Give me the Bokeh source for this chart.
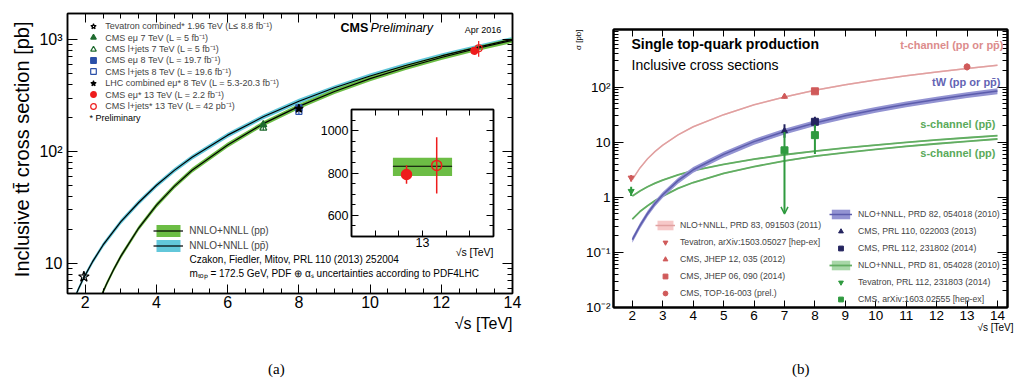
import math
from bokeh.plotting import figure
from bokeh.models import (Range1d, FixedTicker, LinearAxis, LogAxis, Label, Legend,
                          LegendItem, ColumnDataSource, Arrow, OpenHead,
                          Whisker, TeeHead, Title, Div)
from bokeh.embed import file_html
from bokeh.resources import INLINE

SANS = "Liberation Sans"
SERIF = "Liberation Serif"

# ================= panel (a): inclusive ttbar cross section =================
pp_sqrts = [2.2, 2.4, 2.6, 2.8, 3.0, 3.5, 4.0, 4.5, 5.0, 6.0, 7.0, 8.0, 9.0, 10.0, 11.0, 12.0, 13.0, 14.0]
pp_xsec = [3.25, 4.73, 6.59, 8.86, 11.6, 20.7, 33.1, 48.8, 68.0, 114.3, 177.3, 252.9, 343.7, 447.3, 563.3, 691.2, 831.8, 984.5]
ppbar_sqrts = [1.5, 1.6, 1.8, 1.96, 2.2, 2.5, 3.0, 3.5, 4.0, 4.5, 5.0, 6.0, 7.0, 8.0, 9.0, 10.0, 11.0, 12.0, 13.0, 14.0]
ppbar_xsec = [3.35, 4.09, 5.83, 7.46, 10.3, 14.6, 23.6, 35.0, 49.9, 67.8, 88.7, 139.9, 204.1, 281.3, 371.0, 472.7, 586.9, 713.8, 852.6, 1003.6]
ttbar_theory_unc = 0.05

meas_names = [
    "Tevatron combined* 1.96 TeV (L\u2264 8.8 fb\u207b\u00b9)",
    "CMS e\u03bc 7 TeV (L = 5 fb\u207b\u00b9)",
    "CMS l+jets 7 TeV (L = 5 fb\u207b\u00b9)",
    "CMS e\u03bc 8 TeV (L = 19.7 fb\u207b\u00b9)",
    "CMS l+jets 8 TeV (L = 19.6 fb\u207b\u00b9)",
    "LHC combined e\u03bc* 8 TeV (L = 5.3-20.3 fb\u207b\u00b9)",
    "CMS e\u03bc* 13 TeV (L = 2.2 fb\u207b\u00b9)",
    "CMS l+jets* 13 TeV (L = 42 pb\u207b\u00b9)",
]
meas_sqrts = [1.96, 7.0, 7.0, 8.0, 8.0, 8.0, 13.0, 13.0]
meas_xsec = [7.60, 173.6, 161.7, 244.9, 228.5, 241.5, 793.0, 836.0]
meas_err = [0.41, 6.0, 7.0, 9.0, 15.0, 8.5, 44.0, 133.0]
meas_stat_err = [0.0, 0.0, 0.0, 0.0, 0.0, 0.0, 0.0, 27.0]

th13_xsec = 831.8
th13_up = 40.0
th13_down = 46.0

# ================= panel (b): single top =================
tch_sqrts = [2.0, 2.25, 2.5, 2.75, 3.0, 3.5, 4.0, 5.0, 6.0, 7.0, 8.0, 9.0, 10.0, 11.0, 12.0, 13.0, 14.0]
tch_xsec = [2.1, 3.4, 5.0, 6.8, 8.8, 13.5, 19.0, 31.5, 47.5, 65.9, 87.2, 110.0, 134.5, 160.5, 188.0, 217.0, 248.0]
tw_sqrts = [2.0, 2.25, 2.5, 2.75, 3.0, 3.5, 4.0, 5.0, 6.0, 7.0, 8.0, 9.0, 10.0, 11.0, 12.0, 13.0, 14.0]
tw_xsec = [0.17, 0.306, 0.507, 0.778, 1.11, 2.0, 3.15, 6.0, 10.2, 15.6, 22.2, 30.0, 38.8, 48.7, 59.5, 71.7, 84.4]
sch_sqrts = [2.0, 2.25, 2.5, 2.75, 3.0, 3.5, 4.0, 5.0, 6.0, 7.0, 8.0, 9.0, 10.0, 11.0, 12.0, 13.0, 14.0]
sch_pp_xsec = [0.40, 0.55, 0.70, 0.87, 1.05, 1.45, 1.85, 2.7, 3.6, 4.56, 5.55, 6.45, 7.4, 8.4, 9.35, 10.32, 11.39]
sch_ppbar_xsec = [1.05, 1.30, 1.55, 1.80, 2.05, 2.55, 3.05, 3.95, 4.9, 5.9, 6.85, 7.85, 8.85, 9.9, 10.95, 12.0, 13.1]
tch_unc = 0.03
tw_unc = 0.12
sch_unc = 0.03

tch_meas_names = ["Tevatron, arXiv:1503.05027 [hep-ex]", "CMS, JHEP 12, 035 (2012)",
                  "CMS, JHEP 06, 090 (2014)", "CMS, TOP-16-003 (prel.)"]
tch_meas_sqrts = [1.96, 7.0, 8.0, 13.0]
tch_meas_xsec = [2.25, 67.2, 83.6, 232.0]
tch_meas_up = [0.29, 6.1, 7.7, 31.0]
tch_meas_dn = [0.31, 6.1, 7.7, 31.0]

tw_meas_names = ["CMS, PRL 110, 022003 (2013)", "CMS, PRL 112, 231802 (2014)"]
tw_meas_sqrts = [7.0, 8.0]
tw_meas_xsec = [16.0, 23.4]
tw_meas_up = [5.0, 5.4]
tw_meas_dn = [4.0, 5.4]

sch_meas_names = ["Tevatron, PRL 112, 231803 (2014)", "CMS, arXiv:1603.02555 [hep-ex]",
                  "CMS, arXiv:1603.02555 [hep-ex]"]
sch_meas_sqrts = [1.96, 7.0, 8.0]
sch_meas_xsec = [1.29, 7.1, 13.4]
sch_meas_up = [0.26, 8.1, 7.3]
sch_meas_dn = [0.24, 8.1, 7.3]
sch_limit_arrow_end = 0.5

panel_captions = ["(a)", "(b)"]


# ------------------------------------------------------------------ helpers
def base_fig(**kw):
    p = figure(output_backend="svg", toolbar_location=None, title=None, **kw)
    p.xgrid.visible = False
    p.ygrid.visible = False
    p.outline_line_color = "black"
    p.background_fill_color = "white"
    p.border_fill_color = "white"
    return p


def style_axis(ax, size, tin, tmin, lw, standoff):
    ax.major_tick_in = tin
    ax.major_tick_out = 0
    ax.minor_tick_in = tmin
    ax.minor_tick_out = 0
    ax.axis_line_width = lw
    ax.axis_line_color = "black"
    ax.major_tick_line_color = "black"
    ax.minor_tick_line_color = "black"
    ax.major_label_text_font = SANS
    ax.major_label_text_font_size = f"{size}px"
    ax.major_label_text_color = "black"
    ax.major_label_standoff = standoff


def mirror(p, xt, yt, ylog, xin, xmin, yin, ymin, lw):
    top = LinearAxis(ticker=xt)
    style_axis(top, 1, xin, xmin, lw, 0)
    top.major_label_text_alpha = 0
    p.add_layout(top, "above")
    right = LogAxis(ticker=yt) if ylog else LinearAxis(ticker=yt)
    style_axis(right, 1, yin, ymin, lw, 0)
    right.major_label_text_alpha = 0
    p.add_layout(right, "right")


def label(p, text, x, y, size, align="left", baseline="middle", style="normal",
          color="black", font=SANS):
    p.add_layout(Label(x=x, y=y, x_units="screen", y_units="screen", text=text,
                       text_font=font, text_font_size=f"{size}px", text_align=align,
                       text_baseline=baseline, text_font_style=style,
                       text_color=color))


def side_title(p, text, place, size, align, standoff, offset=0, font=SANS):
    t = Title(text=text, align=align, offset=offset, text_font=font,
              text_font_size=f"{size}px", text_font_style="normal", text_color="black")
    try:
        t.standoff = standoff
    except Exception:
        t.standoff = 0
    p.add_layout(t, place)


def band_source(xs, ys, unc):
    return ColumnDataSource(dict(x=xs, y=ys, lo=[v * (1 - unc) for v in ys],
                                 hi=[v * (1 + unc) for v in ys]))


def caption(text, left, top):
    return Div(text=text, width=24, height=18,
               styles={"position": "absolute", "left": f"{left}px", "top": f"{top}px",
                       "font-family": SERIF, "font-size": "15px", "line-height": "18px",
                       "color": "black", "margin": "0px", "padding": "0px"})


# ================================================================== panel (a)
p1 = base_fig(width=553, height=384, x_range=Range1d(1.5, 14.0),
              y_range=Range1d(5.38, 1710.0), y_axis_type="log",
              min_border_left=67, min_border_right=41, min_border_top=13,
              min_border_bottom=91)
p1.outline_line_width = 1.5
xt1 = FixedTicker(ticks=[2, 4, 6, 8, 10, 12, 14],
                  minor_ticks=[1.5 + 0.5 * i for i in range(26)])
yt1 = FixedTicker(ticks=[10, 100, 1000],
                  minor_ticks=[k * 10 ** e for e in (0, 1, 2, 3) for k in range(2, 10)])
p1.xaxis[0].ticker = xt1
p1.yaxis[0].ticker = yt1
style_axis(p1.xaxis[0], 16, 9, 5, 1.5, 2)
style_axis(p1.yaxis[0], 16, 10, 5, 1.5, 5)
p1.yaxis[0].major_label_overrides = {10: "10", 100: "10\u00b2", 1000: "10\u00b3"}
mirror(p1, xt1, yt1, True, 9, 5, 10, 5, 1.5)

src_ppbar = band_source(ppbar_sqrts, ppbar_xsec, ttbar_theory_unc)
src_pp = band_source(pp_sqrts, pp_xsec, ttbar_theory_unc)
r_ppbar_band = p1.varea(x="x", y1="lo", y2="hi", source=src_ppbar, fill_color="#62c7da")
r_pp_band = p1.varea(x="x", y1="lo", y2="hi", source=src_pp, fill_color="#6cbd45")
r_ppbar_line = p1.line("x", "y", source=src_ppbar, line_color="black", line_width=1.2)
r_pp_line = p1.line("x", "y", source=src_pp, line_color="black", line_width=1.2)

meas_style = [
    dict(marker="star", size=11, line_color="black", fill_color=None),
    dict(marker="triangle", size=7, line_color="#1f6b2f", fill_color="#1f6b2f"),
    dict(marker="triangle", size=7, line_color="#1f6b2f", fill_color=None),
    dict(marker="square", size=6, line_color="#2a4fa8", fill_color="#2a4fa8"),
    dict(marker="square", size=6, line_color="#2a4fa8", fill_color=None),
    dict(marker="star", size=9, line_color="black", fill_color="black"),
    dict(marker="circle", size=7, line_color="#ee1c1c", fill_color="#ee1c1c"),
    dict(marker="circle", size=7, line_color="#ee1c1c", fill_color=None),
]
main_dx = [0, 0, 0, 0, 0, 0, -0.07, 0.05]
inset_dx = [0, 0, 0, 0, 0, 0, -0.135, 0.12]
err_color = ["black", "#1f6b2f", "#1f6b2f", "#2a4fa8", "#2a4fa8", "black", "#ee1c1c", "#ee1c1c"]

# frame-relative geometry of panel (a): frame is 280 px high
FH1 = 280
legA_first_row = 12.7     # px below the frame top
legA_pitch = 11.43
for i, name in enumerate(meas_names):
    s = ColumnDataSource(dict(x=[meas_sqrts[i] + main_dx[i]], y=[meas_xsec[i]],
                              lo=[meas_xsec[i] - meas_err[i]], hi=[meas_xsec[i] + meas_err[i]]))
    p1.segment(x0="x", y0="lo", x1="x", y1="hi", source=s, line_color=err_color[i], line_width=1.2)
    st = meas_style[i]
    r = p1.scatter("x", "y", source=s, marker=st["marker"], size=st["size"],
                   line_color=st["line_color"], fill_color=st["fill_color"], line_width=1.2)
    centre = legA_first_row + legA_pitch * i
    p1.add_layout(Legend(items=[LegendItem(label=name, renderers=[r])],
                         location=(19.3, FH1 - (centre + 8)), glyph_width=14, glyph_height=16,
                         label_height=16, spacing=0, padding=0, margin=0, label_standoff=5,
                         border_line_alpha=0, background_fill_alpha=0,
                         label_text_font=SANS, label_text_font_size="9px"))

legB = Legend(items=[LegendItem(label="NNLO+NNLL (pp)", renderers=[r_pp_band, r_pp_line]),
                     LegendItem(label="NNLO+NNLL (pp\u0304)", renderers=[r_ppbar_band, r_ppbar_line])],
              location=(86.3, 39.8), glyph_width=30, glyph_height=15, label_height=15,
              spacing=0, padding=0, margin=0, label_standoff=6,
              border_line_alpha=0, background_fill_alpha=0,
              label_text_font=SANS, label_text_font_size="10px")
p1.add_layout(legB)

label(p1, "* Preliminary", 22, 176, 9)
label(p1, "Czakon, Fiedler, Mitov, PRL 110 (2013) 252004", 122, 33.7, 10)
label(p1, "m\u209c\u2092\u209a = 172.5 GeV, PDF \u2295 \u03b1\u209b uncertainties according to PDF4LHC",
      122, 19.7, 10)
label(p1, "CMS", 273, 266, 12.5, style="bold")
label(p1, "Preliminary", 303, 266, 12.5, style="italic")
label(p1, "Apr 2016", 415.5, 264, 9, align="center")
side_title(p1, "Inclusive tt\u0304 cross section [pb]", "left", 20, "right", 7, offset=8)
side_title(p1, "\u221as [TeV]", "below", 16, "right", 5)

# ----------------------------------------------------------------- inset
ins = base_fig(width=187, height=157, x_range=Range1d(12.4, 13.6), y_range=Range1d(500, 1100),
               min_border_left=40, min_border_right=5, min_border_top=5, min_border_bottom=25,
               styles={"position": "absolute", "left": "311px", "top": "104px"})
ins.border_fill_color = None
ins.border_fill_alpha = 0
ins.outline_line_width = 1.5
xti = FixedTicker(ticks=[13], minor_ticks=[12.6, 12.8, 13.2, 13.4])
yti = FixedTicker(ticks=[600, 800, 1000],
                  minor_ticks=[550, 650, 700, 750, 850, 900, 950, 1050])
ins.xaxis[0].ticker = xti
ins.yaxis[0].ticker = yti
style_axis(ins.xaxis[0], 12.5, 6, 6, 1.5, 1)
style_axis(ins.yaxis[0], 12.5, 7, 4, 1.5, 3)
mirror(ins, xti, yti, False, 6, 6, 7, 4, 1.5)

th_box_halfwidth = 0.25
ins.quad(left=[13 - th_box_halfwidth], right=[13 + th_box_halfwidth],
         bottom=[th13_xsec - th13_down], top=[th13_xsec + th13_up],
         fill_color="#6cbd45", line_color=None)
ins.segment(x0=[13 - th_box_halfwidth], x1=[13 + th_box_halfwidth], y0=[th13_xsec], y1=[th13_xsec],
            line_color="black", line_width=1.2)
for i in (6, 7):
    s = ColumnDataSource(dict(x=[meas_sqrts[i] + inset_dx[i]], y=[meas_xsec[i]],
                              lo=[meas_xsec[i] - meas_err[i]], hi=[meas_xsec[i] + meas_err[i]],
                              slo=[meas_xsec[i] - meas_stat_err[i]],
                              shi=[meas_xsec[i] + meas_stat_err[i]]))
    ins.segment(x0="x", y0="lo", x1="x", y1="hi", source=s, line_color="#ee1c1c", line_width=1.5)
    if meas_stat_err[i] > 0:
        ins.add_layout(Whisker(source=s, base="x", lower="slo", upper="shi", dimension="height",
                               line_color="#ee1c1c", line_width=1.5,
                               lower_head=TeeHead(size=8, line_color="#ee1c1c", line_width=1.5),
                               upper_head=TeeHead(size=8, line_color="#ee1c1c", line_width=1.5)))
    st = meas_style[i]
    ins.scatter("x", "y", source=s, marker="circle", size=10, line_color="#ee1c1c",
                fill_color=st["fill_color"], line_width=1.5)
side_title(ins, "\u221as [TeV]", "below", 10.5, "right", -17)

# ================================================================== panel (b)
p2 = base_fig(width=464, height=384, x_range=Range1d(1.38, 14.33),
              y_range=Range1d(0.01, 1105.0), y_axis_type="log",
              min_border_left=60, min_border_right=10, min_border_top=29,
              min_border_bottom=77,
              styles={"position": "absolute", "left": "553px", "top": "0px"})
p2.outline_line_width = 2
xt2 = FixedTicker(ticks=list(range(2, 15)), minor_ticks=[])
yt2 = FixedTicker(ticks=[0.01, 0.1, 1, 10, 100],
                  minor_ticks=[k * 10 ** e for e in (-2, -1, 0, 1, 2) for k in range(2, 10)] + [1000])
p2.xaxis[0].ticker = xt2
p2.yaxis[0].ticker = yt2
style_axis(p2.xaxis[0], 13.5, 7, 4, 2, 3)
style_axis(p2.yaxis[0], 13.5, 10, 5, 2, 3)
p2.yaxis[0].major_label_overrides = {0.01: "10\u207b\u00b2", 0.1: "10\u207b\u00b9", 1: "1",
                                     10: "10", 100: "10\u00b2"}
mirror(p2, xt2, yt2, True, 7, 4, 10, 5, 2)

C_T, C_TB, C_TL, C_TD = "#e0a0a0", "#f6c8c8", "#dc8c8c", "#d05a5a"
C_W, C_WB, C_WL, C_WD = "#5c5cac", "#9393d2", "#6464b4", "#24245f"
C_S, C_SB, C_SL, C_SD = "#62ad62", "#a8d7a8", "#5aaa5a", "#2f9a3f"

src_spp = band_source(sch_sqrts, sch_pp_xsec, sch_unc)
src_sppb = band_source(sch_sqrts, sch_ppbar_xsec, sch_unc)
src_tw = band_source(tw_sqrts, tw_xsec, tw_unc)
src_t = band_source(tch_sqrts, tch_xsec, tch_unc)
r_s_band = p2.varea(x="x", y1="lo", y2="hi", source=src_spp, fill_color=C_SB)
p2.varea(x="x", y1="lo", y2="hi", source=src_sppb, fill_color=C_SB)
r_s_line = p2.line("x", "y", source=src_spp, line_color=C_S, line_width=1.8)
p2.line("x", "y", source=src_sppb, line_color=C_S, line_width=1.8)
r_w_band = p2.varea(x="x", y1="lo", y2="hi", source=src_tw, fill_color=C_WB)
r_w_line = p2.line("x", "y", source=src_tw, line_color=C_W, line_width=1.5)
r_t_band = p2.varea(x="x", y1="lo", y2="hi", source=src_t, fill_color=C_TB)
r_t_line = p2.line("x", "y", source=src_t, line_color=C_T, line_width=1.5)


def draw_meas(xs, ys, ups, dns, markers, color, sizes):
    rs = []
    for x, y, u, d, m, sz in zip(xs, ys, ups, dns, markers, sizes):
        lo = y - d
        s = ColumnDataSource(dict(x=[x], y=[y], lo=[lo if lo > 0 else y], hi=[y + u]))
        p2.segment(x0="x", y0="lo", x1="x", y1="hi", source=s, line_color=color, line_width=2)
        if lo <= 0:
            p2.add_layout(Arrow(end=OpenHead(size=7, line_color=color, line_width=1.5),
                                x_start=x, y_start=y, x_end=x, y_end=sch_limit_arrow_end,
                                line_color=color, line_width=2))
        rs.append(p2.scatter("x", "y", source=s, marker=m, size=sz, line_color=color,
                             fill_color=color))
    return rs


rt = draw_meas(tch_meas_sqrts, tch_meas_xsec, tch_meas_up, tch_meas_dn,
               ["inverted_triangle", "triangle", "square", "circle"], C_TD, [6, 6, 7, 6])
rw = draw_meas(tw_meas_sqrts, tw_meas_xsec, tw_meas_up, tw_meas_dn,
               ["triangle", "square"], C_WD, [6, 7])
rs_ = draw_meas(sch_meas_sqrts, sch_meas_xsec, sch_meas_up, sch_meas_dn,
                ["inverted_triangle", "square", "square"], C_SD, [6, 7, 7])

leg_common = dict(padding=0, margin=0, border_line_alpha=0, background_fill_alpha=0,
                  label_text_font=SANS, label_text_font_size="8.7px",
                  glyph_height=12, label_height=12, spacing=5)
legL = Legend(items=[LegendItem(label="NLO+NNLL, PRD 83, 091503 (2011)", renderers=[r_t_band, r_t_line])] +
              [LegendItem(label=n, renderers=[r]) for n, r in zip(tch_meas_names, rt)],
              location=(42, 7.7), glyph_width=20, label_standoff=5, **leg_common)
p2.add_layout(legL)
legR = Legend(items=[LegendItem(label="NLO+NNLL, PRD 82, 054018 (2010)", renderers=[r_w_band, r_w_line])] +
              [LegendItem(label=n, renderers=[r]) for n, r in zip(tw_meas_names, rw)] +
              [LegendItem(label="NLO+NNLL, PRD 81, 054028 (2010)", renderers=[r_s_band, r_s_line]),
               LegendItem(label=sch_meas_names[0], renderers=[rs_[0]]),
               LegendItem(label=sch_meas_names[1], renderers=[rs_[1]])],
              location=(216, 2.4), glyph_width=23, label_standoff=6, **leg_common)
p2.add_layout(legR)

label(p2, "Single top-quark production", 18, 263.4, 14, style="bold")
label(p2, "Inclusive cross sections", 18, 242.7, 14)
label(p2, "t-channel (pp or pp\u0304)", 390, 262.7, 11, align="right", style="bold", color=C_TL)
label(p2, "tW (pp or pp\u0304)", 387, 226, 11, align="right", style="bold", color=C_WL)
label(p2, "s-channel (pp\u0304)", 382, 184, 11, align="right", style="bold", color=C_SL)
label(p2, "s-channel (pp)", 382, 155, 11, align="right", style="bold", color=C_SL)
side_title(p2, "\u03c3 [pb]", "left", 8, "right", 0)
side_title(p2, "\u221as [TeV]", "below", 10, "right", -6, offset=-6)

cap_a = caption(panel_captions[0], 268, 360)
cap_b = caption(panel_captions[1], 792, 360)

open("out.html", "w").write(file_html([p1, p2, ins, cap_a, cap_b], INLINE))
